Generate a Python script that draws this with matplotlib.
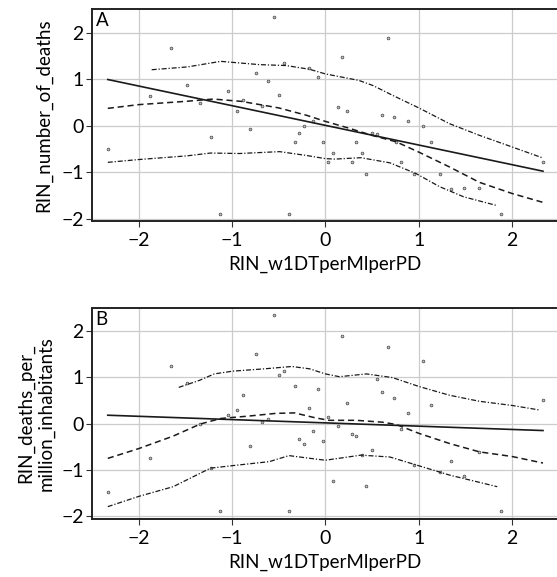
import matplotlib
matplotlib.use('Agg')
import matplotlib.pyplot as plt

plt.rcParams['font.family'] = ['Lato', 'DejaVu Sans']

# scatter data, panel A (RIN_number_of_deaths)
xa = [-2.33, -1.88, -1.65, -1.48, -1.34, -1.23, -1.13, -1.04, -0.95, -0.88,
      -0.81, -0.74, -0.68, -0.61, -0.55, -0.50, -0.44, -0.39, -0.33, -0.28,
      -0.23, -0.18, -0.13, -0.08, -0.03, 0.03, 0.08, 0.13, 0.18, 0.23,
      0.28, 0.33, 0.39, 0.44, 0.50, 0.55, 0.61, 0.67, 0.74, 0.76,
      0.81, 0.88, 0.95, 1.04, 1.13, 1.23, 1.34, 1.48, 1.65, 1.88, 2.33]
ya = [-0.51, 0.64, 1.66, 0.88, 0.49, -0.24, -1.89, 0.75, 0.31, 0.56,
      -0.08, 1.13, 0.43, 0.96, 2.34, 0.65, 1.35, -1.89, -0.36, -0.15,
      0.00, 1.23, 0.09, 1.05, -0.36, -0.79, -0.59, 0.39, 1.48, 0.31,
      -0.79, -0.36, -0.59, -1.04, -0.15, -0.19, 0.22, 1.88, 0.18, -0.35,
      -0.79, 0.10, -1.04, 0.00, -0.36, -1.04, -1.36, -1.35, -1.35, -1.89, -0.79]

# scatter data, panel B (RIN_deaths_per_million_inhabitants)
xb = [-2.33, -1.88, -1.65, -1.48, -1.34, -1.23, -1.13, -1.04, -0.95, -0.88,
      -0.81, -0.74, -0.68, -0.61, -0.55, -0.50, -0.44, -0.39, -0.33, -0.28,
      -0.23, -0.18, -0.13, -0.08, -0.03, 0.03, 0.08, 0.13, 0.18, 0.23,
      0.28, 0.33, 0.39, 0.44, 0.50, 0.55, 0.61, 0.67, 0.74, 0.81,
      0.88, 0.95, 1.04, 1.13, 1.23, 1.34, 1.48, 1.65, 1.88, 2.33]
yb = [-1.48, -0.74, 1.23, 0.88, -0.01, -0.95, -1.88, 0.19, 0.29, 0.61,
      -0.49, 1.49, 0.03, 0.09, 2.35, 1.04, 1.14, -1.88, 0.81, -0.33,
      -0.44, 0.33, -0.16, 0.75, -0.38, 0.14, -1.23, -0.06, 1.89, 0.44,
      -0.22, -0.27, -0.68, -1.34, -0.56, 0.96, 0.68, 1.66, 0.56, -0.11,
      0.23, -0.90, 1.35, 0.39, -1.04, -0.81, -1.12, -0.61, -1.88, 0.50]

# linear fits (end points)
fit_x = [-2.33, 2.33]
fit_a = [0.99, -0.98]
fit_b = [0.18, -0.15]

# smoothed curve and its bands, panel A
smo_a_x = [-2.33, -2.0, -1.5, -1.2, -0.9, -0.5, -0.2, 0.0, 0.26, 0.5, 0.76, 1.0, 1.33, 1.65, 2.0, 2.33]
smo_a_y = [0.37, 0.45, 0.52, 0.57, 0.52, 0.38, 0.22, 0.09, -0.06, -0.21, -0.35, -0.57, -0.89, -1.22, -1.46, -1.65]
up_a_x = [-1.86, -1.48, -1.12, -0.71, -0.42, -0.17, 0.0, 0.36, 0.51, 0.72, 1.0, 1.33, 1.65, 2.0, 2.32]
up_a_y = [1.2, 1.26, 1.38, 1.31, 1.29, 1.21, 1.11, 0.97, 0.86, 0.65, 0.38, 0.04, -0.21, -0.46, -0.69]
lo_a_x = [-2.33, -2.0, -1.48, -1.23, -0.92, -0.49, -0.21, 0.0, 0.1, 0.38, 0.69, 0.97, 1.22, 1.48, 1.84]
lo_a_y = [-0.79, -0.73, -0.65, -0.59, -0.6, -0.56, -0.64, -0.71, -0.72, -0.69, -0.8, -1.03, -1.31, -1.53, -1.72]

# smoothed curve and its bands, panel B
smo_b_x = [-2.33, -2.0, -1.63, -1.34, -1.12, -0.83, -0.53, -0.33, -0.1, 0.04, 0.33, 0.61, 0.76, 1.0, 1.33, 1.65, 2.0, 2.33]
smo_b_y = [-0.75, -0.54, -0.27, -0.01, 0.11, 0.16, 0.22, 0.23, 0.12, 0.07, 0.07, 0.03, -0.02, -0.21, -0.43, -0.61, -0.71, -0.85]
up_b_x = [-1.57, -1.35, -1.19, -0.99, -0.65, -0.36, -0.17, 0.0, 0.15, 0.44, 0.72, 1.0, 1.33, 1.65, 2.0, 2.3]
up_b_y = [0.78, 0.93, 1.07, 1.13, 1.18, 1.23, 1.18, 1.07, 1.01, 1.07, 0.99, 0.80, 0.61, 0.48, 0.39, 0.29]
lo_b_x = [-2.33, -2.0, -1.63, -1.23, -0.92, -0.6, -0.39, -0.2, 0.0, 0.38, 0.69, 0.97, 1.33, 1.84]
lo_b_y = [-1.79, -1.57, -1.36, -0.96, -0.89, -0.82, -0.69, -0.74, -0.79, -0.68, -0.72, -0.89, -1.11, -1.36]

xticks = [-2, -1, 0, 1, 2]
yticks = [-2, -1, 0, 1, 2]
tick_labels = ['\u22122', '\u22121', '0', '1', '2']

fig = plt.figure(figsize=(5.57, 5.77), dpi=100)
ax_a = fig.add_axes([0.165, 0.617, 0.835, 0.367])
ax_b = fig.add_axes([0.165, 0.101, 0.835, 0.366])

panels = [
    (ax_a, xa, ya, fit_a, smo_a_x, smo_a_y, up_a_x, up_a_y, lo_a_x, lo_a_y, 'A', 'RIN_number_of_deaths', -0.086),
    (ax_b, xb, yb, fit_b, smo_b_x, smo_b_y, up_b_x, up_b_y, lo_b_x, lo_b_y, 'B', 'RIN_deaths_per_\nmillion_inhabitants', -0.080),
]

for ax, x, y, fit, sx, sy, ux, uy, lx, ly, tag, ylab, ylab_x in panels:
    ax.grid(True, color='#cccccc', lw=0.9)
    ax.set_axisbelow(True)
    ax.plot(x, y, 'o', ms=2.0, mfc='#c0c0c0', mec='#444444', mew=0.5, zorder=3)
    ax.plot(fit_x, fit, '-', color='#1a1a1a', lw=1.2, zorder=4)
    ax.plot(sx, sy, color='#1a1a1a', lw=1.1, ls=(0, (4, 2.5)), zorder=4)
    ax.plot(ux, uy, color='#1a1a1a', lw=0.9, ls=(0, (4, 1.5, 1, 1.5)), zorder=4)
    ax.plot(lx, ly, color='#1a1a1a', lw=0.9, ls=(0, (4, 1.5, 1, 1.5)), zorder=4)

    ax.set_xlim(-2.5, 2.48)
    ax.set_ylim(-2.05, 2.5)
    ax.set_xticks(xticks)
    ax.set_yticks(yticks)
    ax.set_xticklabels(tick_labels)
    ax.set_yticklabels(tick_labels)
    ax.tick_params(labelsize=14, length=4, width=0.8, color='#333333')
    ax.tick_params(axis='x', pad=4)
    ax.tick_params(axis='y', pad=2)
    for side in ['left', 'bottom', 'top']:
        ax.spines[side].set_linewidth(1.4)
        ax.spines[side].set_color('#222222')
    ax.spines['right'].set_visible(False)

    ax.text(0.008, 0.985, tag, transform=ax.transAxes, ha='left', va='top', fontsize=13.5)
    ax.set_xlabel('RIN_w1DTperMlperPD', fontsize=13.5, labelpad=5)
    ax.set_ylabel(ylab, fontsize=13.5, linespacing=1.25)
    ax.yaxis.set_label_coords(ylab_x, 0.5)

fig.savefig('out.png', dpi=100)
